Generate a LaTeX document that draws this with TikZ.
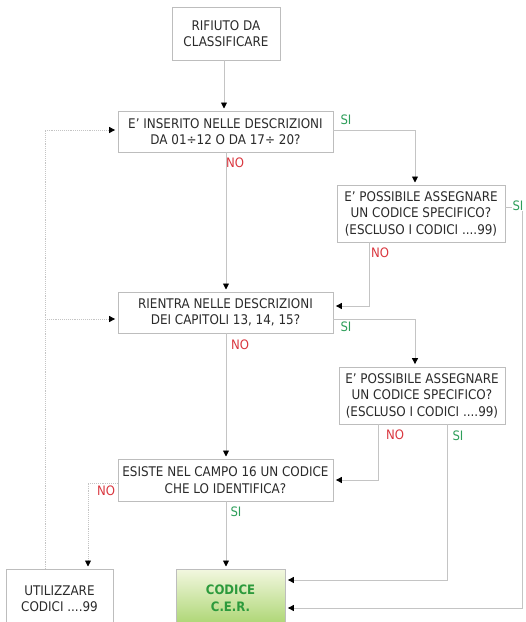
\documentclass[tikz,border=0pt]{standalone}
\usepackage{fontspec}
\setmainfont{DejaVu Sans Condensed}
\usetikzlibrary{arrows.meta}
\definecolor{boxline}{HTML}{BDBDBD}
\definecolor{conn}{HTML}{C4C4C4}
\definecolor{txt}{HTML}{2A2A2A}
\definecolor{nored}{HTML}{D9363E}
\definecolor{sigreen}{HTML}{2E9E5A}
\definecolor{cergreen}{HTML}{2C9A3C}
\definecolor{certop}{HTML}{F2F7DF}
\definecolor{cerbot}{HTML}{A9D46E}
\tikzset{
  box/.style={draw=boxline, line width=0.8pt, fill=white, text=txt, align=center,
    font=\fontsize{13.3}{16.5}\selectfont, inner sep=2pt},
  link/.style={draw=conn, line width=0.9pt, -{Triangle[length=6pt,width=6pt,black]}, shorten >=2.5pt},
  loop/.style={draw=conn, line width=0.9pt, densely dotted, -{Triangle[length=6pt,width=6pt,black]}, shorten >=2.5pt},
  nolab/.style={text=nored, font=\fontsize{13}{14}\selectfont, inner sep=0pt},
  silab/.style={text=sigreen, font=\fontsize{13}{14}\selectfont, inner sep=0pt},
}
\begin{document}
\begin{tikzpicture}[x=1pt,y=-1pt]
\useasboundingbox (0,0) rectangle (526,622);
\clip (0,0) rectangle (526,622);
% nodes
\node[box, minimum width=108pt, minimum height=53pt] (b1) at (226,33.5) {RIFIUTO DA\\CLASSIFICARE};
\node[box, minimum width=215pt, minimum height=41pt] (b2) at (225.5,131.5) {E’ INSERITO NELLE DESCRIZIONI\\DA 01÷12 O DA 17÷ 20?};
\node[box, minimum width=168pt, minimum height=57pt] (b3) at (421,213.5) {E’ POSSIBILE ASSEGNARE\\UN CODICE SPECIFICO?\\(ESCLUSO I CODICI ....99)};
\node[box, minimum width=215pt, minimum height=41pt] (b4) at (225.5,312.5) {RIENTRA NELLE DESCRIZIONI\\DEI CAPITOLI 13, 14, 15?};
\node[box, minimum width=166pt, minimum height=57pt] (b5) at (422,395.5) {E’ POSSIBILE ASSEGNARE\\UN CODICE SPECIFICO?\\(ESCLUSO I CODICI ....99)};
\node[box, minimum width=215pt, minimum height=42pt] (b6) at (225.5,480) {ESISTE NEL CAMPO 16 UN CODICE\\CHE LO IDENTIFICA?};
\node[box, minimum width=107pt, minimum height=58pt, anchor=north, text depth=0pt] (b7) at (59.5,569) {UTILIZZARE\\CODICI ....99};
\node[draw=boxline, line width=0.8pt, top color=certop, bottom color=cerbot, minimum width=109pt, minimum height=58pt, anchor=north,
  text=cergreen, align=center, font=\bfseries\fontsize{13}{16.5}\selectfont] (cer) at (230.5,569) {CODICE\\C.E.R.};
% helper coordinates
\coordinate (r1) at (522,207);
\coordinate (l1) at (45,130);
% connectors
\draw[link] (b1.south -| 224,0) -- (224,111);
\draw[link] (b2.east |- 0,130) -- (415,130) -- (415,185);
\draw[link] (b2.south -| 226,0) -- (226,292);
\draw[link] (b3.east |- r1) -- (r1) -- (522,608) -- (cer.east |- 0,608);
\draw[link] (b3.south -| 369,0) -- (369,306) -- (b4.east |- 0,306);
\draw[link] (b4.east |- 0,319) -- (415,319) -- (b5.north -| 415,0);
\draw[link] (b4.south -| 226,0) -- (226,459);
\draw[link] (b5.south -| 378,0) -- (378,480) -- (b6.east |- 0,480);
\draw[link] (b5.south -| 447,0) -- (447,580) -- (cer.east |- 0,580);
\draw[link] (b6.south -| 226,0) -- (cer.north -| 226,0);
\draw[loop] (b6.west |- 0,483) -- (88,483) -- (b7.north -| 88,0);
\draw[loop] (b7.north -| 45,0) -- (l1) -- (b2.west |- l1);
\draw[loop] (45,319) -- (b4.west |- 0,319);
% labels
\node[silab] (s1) at (346,120) {SI};
\node[nolab] (n1) at (235,163) {NO};
\node[silab, fill=white, inner sep=0.5pt] (s2) at (518,206) {SI};
\node[nolab] (n2) at (380,253) {NO};
\node[silab] (s3) at (346,327) {SI};
\node[nolab] (n3) at (240,345) {NO};
\node[nolab] (n4) at (395,435) {NO};
\node[silab] (s4) at (458,436) {SI};
\node[nolab] (n5) at (106,491) {NO};
\node[silab] (s5) at (236,512) {SI};
\end{tikzpicture}
\end{document}
